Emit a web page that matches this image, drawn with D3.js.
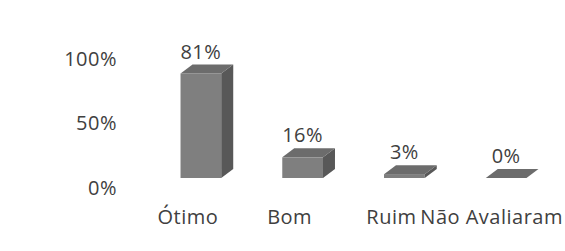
<!DOCTYPE html>
<html>
<head>
<meta charset="utf-8">
<script src="https://cdn.jsdelivr.net/npm/d3@7"></script>
<style>
  body { margin: 0; background: white; }
  text { font-family: "Open Sans", sans-serif; fill: #404040; letter-spacing: 0.5px; }
</style>
</head>
<body>
<script>
// data
const categories = ["Ótimo", "Bom", "Ruim", "Não Avaliaram"];
const values = [0.81, 0.16, 0.03, 0.0];
const valueLabels = ["81%", "16%", "3%", "0%"];
const yTicks = [0, 0.5, 1];

const w = 565, h = 251;
const depthX = 12, depthY = -9;

const svg = d3.select("body").append("svg")
  .attr("width", w)
  .attr("height", h)
  .style("background-color", "white");

// scales
const xScale = d3.scaleBand()
  .domain(categories)
  .range([150, 557])
  .paddingInner(0.6)
  .paddingOuter(0.3);

const yScale = d3.scaleLinear()
  .domain([0, 1])
  .range([178, 49]);

// y axis (labels only, sits on the back wall)
const yAxis = d3.axisLeft(yScale)
  .tickValues(yTicks)
  .tickFormat(d3.format(".0%"))
  .tickSize(0)
  .tickPadding(0);

svg.append("g")
  .attr("transform", "translate(117, 10)")
  .call(yAxis)
  .call(g => g.select(".domain").remove())
  .selectAll("text")
  .style("font-size", "20px")
  .style("font-family", "'Open Sans', sans-serif")
  .attr("fill", "#404040");

// 3d bars
const bars = svg.selectAll(".bar")
  .data(categories)
  .enter()
  .append("g")
  .attr("class", "bar");

const bw = xScale.bandwidth();

// front
bars.append("rect")
  .attr("x", d => xScale(d))
  .attr("y", (d, i) => yScale(values[i]))
  .attr("width", bw)
  .attr("height", (d, i) => yScale(0) - yScale(values[i]))
  .attr("fill", "#7f7f7f");

// side
bars.append("path")
  .attr("d", (d, i) => {
    const x1 = xScale(d) + bw, y0 = yScale(0), y1 = yScale(values[i]);
    return `M${x1},${y1} L${x1 + depthX},${y1 + depthY} L${x1 + depthX},${y0 + depthY} L${x1},${y0} Z`;
  })
  .attr("fill", "#585858");

// top
bars.append("path")
  .attr("d", (d, i) => {
    const x0 = xScale(d), y1 = yScale(values[i]);
    return `M${x0},${y1} L${x0 + depthX},${y1 + depthY} L${x0 + bw + depthX},${y1 + depthY} L${x0 + bw},${y1} Z`;
  })
  .attr("fill", "#6c6c6c");

// value labels
bars.append("text")
  .attr("x", d => xScale(d) + bw / 2)
  .attr("y", (d, i) => yScale(values[i]) + depthY - 6)
  .attr("text-anchor", "middle")
  .style("font-size", "20px")
  .text((d, i) => valueLabels[i]);

// category labels
svg.append("g")
  .selectAll("text")
  .data(categories)
  .enter()
  .append("text")
  .attr("x", (d, i) => {
    const cx = xScale(d) + bw / 2 - 13;
    return i === categories.length - 1 ? w - 2 : cx;
  })
  .attr("y", 224)
  .attr("text-anchor", (d, i) => i === categories.length - 1 ? "end" : "middle")
  .style("font-size", "20px")
  .text(d => d);
</script>
</body>
</html>
